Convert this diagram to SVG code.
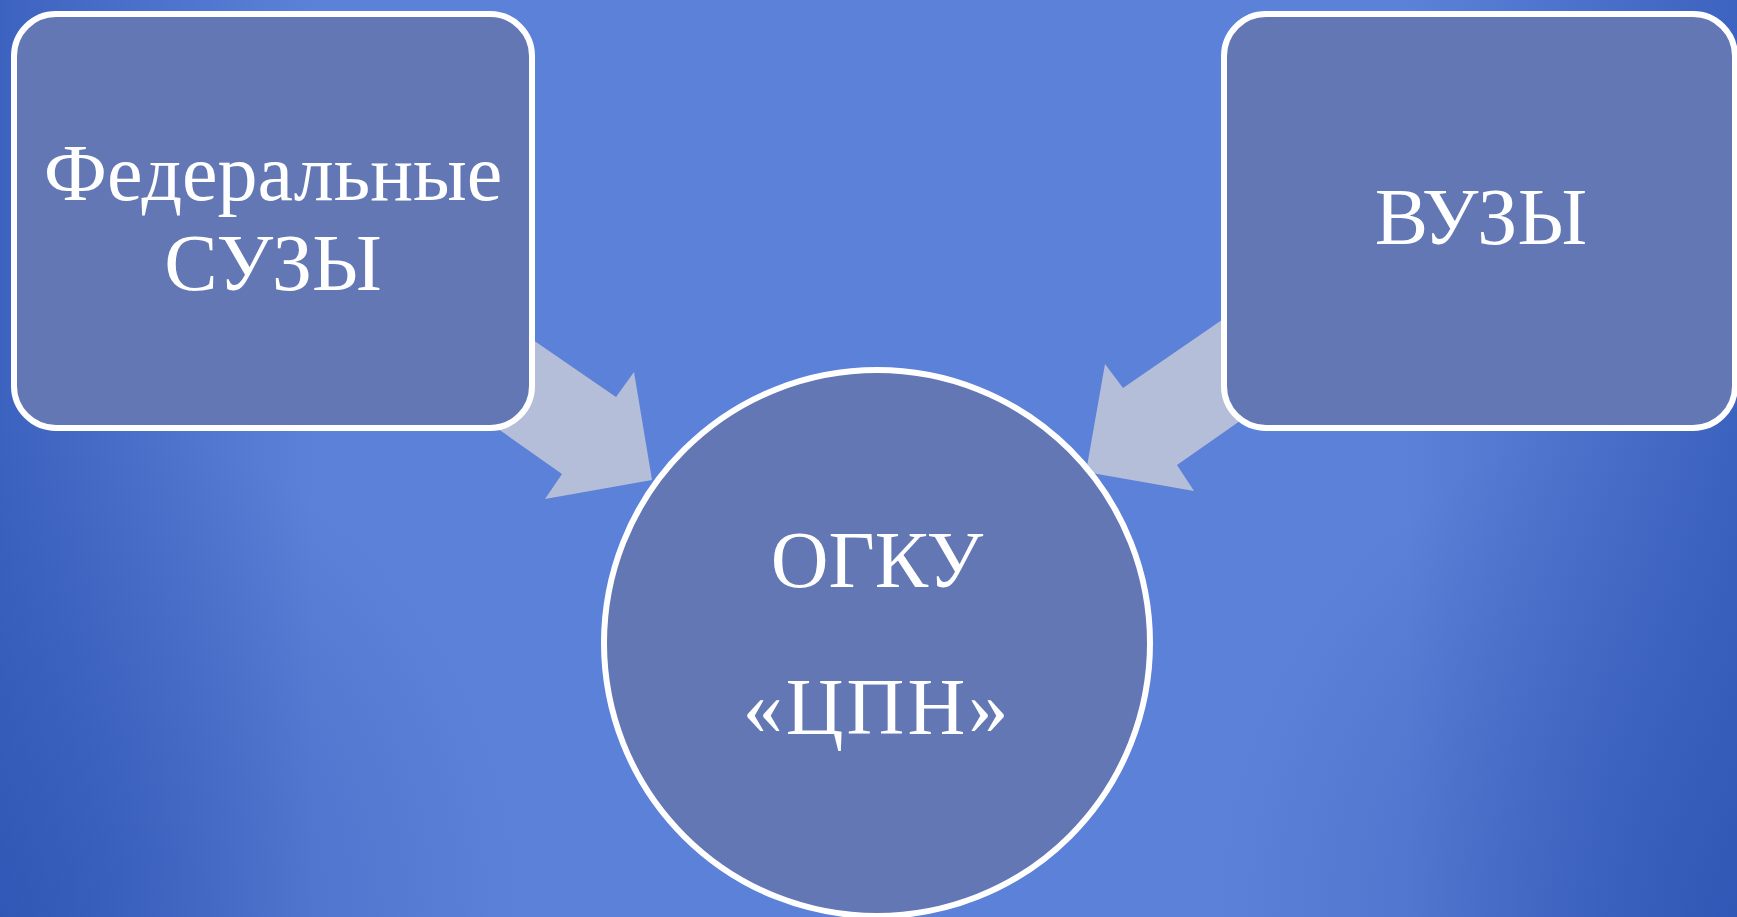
<svg xmlns="http://www.w3.org/2000/svg" width="1737" height="917" viewBox="0 0 1737 917">
<defs>
<linearGradient id="bg" x1="0" y1="0" x2="1" y2="0">
<stop offset="0" stop-color="#3d63c0"/>
<stop offset="0.18" stop-color="#5b81d8"/>
<stop offset="0.81" stop-color="#5b81d8"/>
<stop offset="1" stop-color="#3d63c0"/>
</linearGradient>
<radialGradient id="cornerL" gradientUnits="userSpaceOnUse" cx="0" cy="917" r="520">
<stop offset="0" stop-color="#2a50b0" stop-opacity="0.6"/>
<stop offset="1" stop-color="#2a50b0" stop-opacity="0"/>
</radialGradient>
<radialGradient id="cornerR" gradientUnits="userSpaceOnUse" cx="1737" cy="917" r="520">
<stop offset="0" stop-color="#2a50b0" stop-opacity="0.6"/>
<stop offset="1" stop-color="#2a50b0" stop-opacity="0"/>
</radialGradient>
<style>
.node{fill:#6277b3;stroke:#ffffff;stroke-width:6}
.arrow{fill:#b5bed8}
.lbl{font-family:"Liberation Serif","Times New Roman",serif;font-size:80px;fill:#ffffff;text-anchor:middle}
</style>
</defs>
<rect x="0" y="0" width="1737" height="917" fill="url(#bg)"/>
<rect x="0" y="0" width="1737" height="917" fill="url(#cornerL)"/>
<rect x="0" y="0" width="1737" height="917" fill="url(#cornerR)"/>
<g id="connectors">
<polygon class="arrow" points="450,283 616,397 634,372 652,480 545,499 562,474 450,395"/>
<polygon class="arrow" points="1290,273 1123,388 1105,364 1086,472 1194,491 1177,465 1290,386"/>
</g>
<g id="node-federal">
<rect class="node" x="14" y="14" width="518" height="414" rx="42" ry="42"/>
<text class="lbl" x="273" y="200">Федеральные</text>
<text class="lbl" x="273" y="290">СУЗЫ</text>
</g>
<g id="node-vuzy">
<rect class="node" x="1224" y="14" width="511" height="414" rx="42" ry="42"/>
<text class="lbl" x="1481" y="244">ВУЗЫ</text>
</g>
<g id="node-ogku">
<circle class="node" cx="877" cy="643" r="273"/>
<text class="lbl" x="877" y="587">ОГКУ</text>
<text class="lbl" x="877" y="734" letter-spacing="3">«ЦПН»</text>
</g>
</svg>
